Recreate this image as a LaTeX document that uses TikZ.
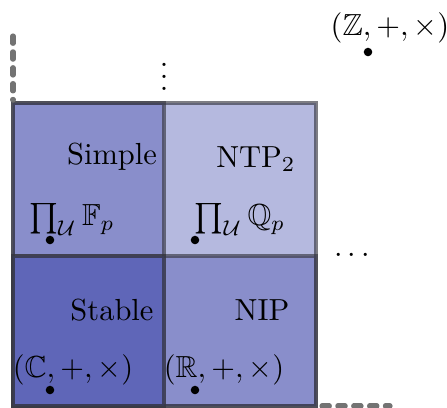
\documentclass[tikz,border=0pt]{standalone}
\usepackage{amssymb}
\definecolor{regblue}{RGB}{71,79,174}
\definecolor{edgegray}{RGB}{55,55,65}
\begin{document}
\begin{tikzpicture}[x=0.328pt,y=-0.328pt,
  region/.style={fill=regblue, fill opacity=0.4, draw=edgegray, draw opacity=0.65, line width=1.45pt},
  dashext/.style={draw=black!55, line width=1.7pt, line cap=round, dash pattern=on 2.4pt off 2.8pt},
  pt/.style={circle, fill=black, inner sep=0pt, minimum size=2.8pt},
  lab/.style={inner sep=0pt, font=\normalsize}]
\useasboundingbox (0,0) rectangle (447,407);
% regions
\path[region] (13,103) rectangle (316,406);
\path[region] (13,103) rectangle (164,406);
\path[region] (13,256) rectangle (316,406);
\path[region] (13,256) rectangle (164,406);
% dashed extensions
\coordinate (ltop) at (13,36);
\coordinate (lbot) at (13,100);
\coordinate (bl) at (322,406);
\coordinate (br) at (390,406);
\draw[dashext] (ltop) -- (lbot);
\draw[dashext] (bl) -- (br);
% labels
\node[lab] (simple) at (112,157) {Simple};
\node[lab] (ntp) at (256,159) {NTP$_2$};
\node[lab] (stable) at (112,310) {Stable};
\node[lab] (nip) at (262,310) {NIP};
\node[lab] (uf) at (72,219) {$\prod_{\mathcal U}\mathbb{F}_p$};
\node[lab] (uq) at (240,219) {$\prod_{\mathcal U}\mathbb{Q}_p$};
\node[lab] (cc) at (73,370) {$(\mathbb{C},+,\times)$};
\node[lab] (rr) at (224,370) {$(\mathbb{R},+,\times)$};
\node[lab] (zz) at (390,28) {$(\mathbb{Z},+,\times)$};
\node[lab] (vd) at (164,68) {$\vdots$};
\node[lab] (hd) at (352,256) {$\cdots$};
% points
\node[pt] (puf) at (50,240) {};
\node[pt] (puq) at (195,240) {};
\node[pt] (pcc) at (50,390) {};
\node[pt] (prr) at (195,390) {};
\node[pt] (pzz) at (368,52) {};
\end{tikzpicture}
\end{document}
